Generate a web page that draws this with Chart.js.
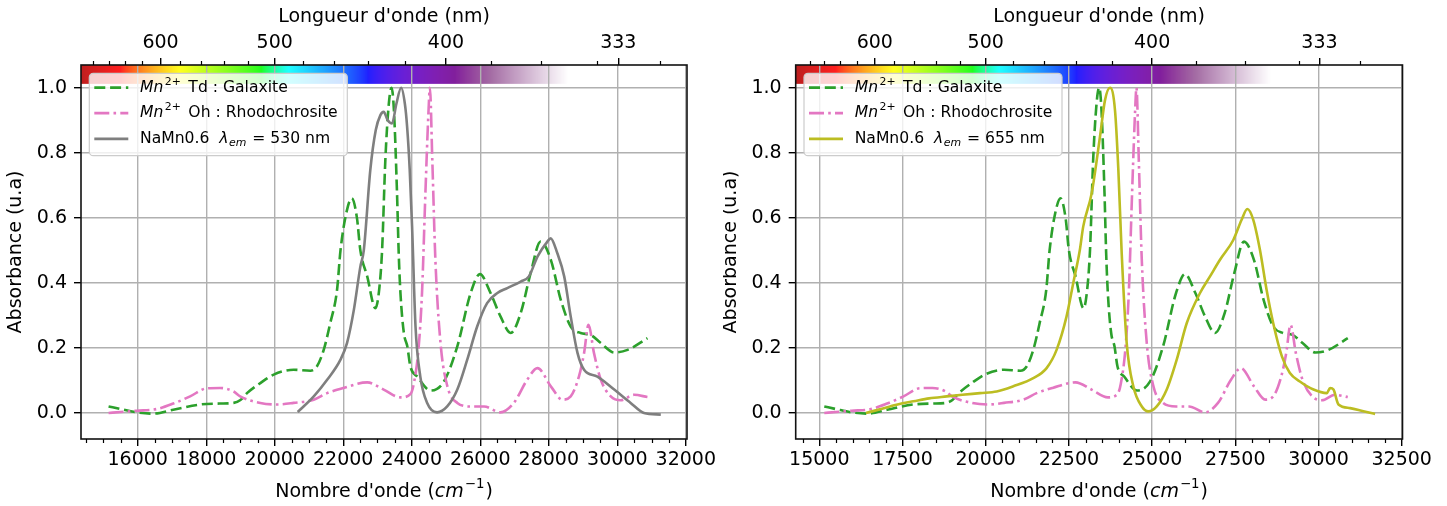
<!DOCTYPE html>
<html><head><meta charset="utf-8">
<script src="https://cdn.jsdelivr.net/npm/chart.js@4/dist/chart.umd.min.js"></script>
<style>
html,body{margin:0;padding:0;background:#fff;width:1447px;height:506px;overflow:hidden}
canvas{position:absolute;top:0}
#c1{left:0}
#c2{left:723px}
</style></head><body>
<canvas id="c1" width="723" height="506"></canvas>
<canvas id="c2" width="724" height="506"></canvas>
<script>
// ---------------- DATA ----------------
const galaxiteX = [15150,15500,15970,16450,17040,17820,18400,18800,19000,19190,19580,19970,20550,21040,21230,21430,21620,21820,21920,22100,22250,22400,22500,22700,22940,23050,23134,23230,23330,23410,23480,23570,23620,23670,23770,23870,23960,24160,24550,24940,25330,25720,25990,26300,26590,26890,27180,27470,27760,28060,28350,28640,28930,29220,29520,29910,30300,30880];
const galaxiteY = [0.020,0.012,0.002,-0.002,0.010,0.026,0.029,0.031,0.040,0.061,0.092,0.118,0.133,0.130,0.143,0.194,0.276,0.379,0.500,0.620,0.660,0.600,0.500,0.420,0.322,0.380,0.500,0.780,0.950,1.000,0.930,0.676,0.490,0.369,0.246,0.205,0.143,0.112,0.069,0.097,0.205,0.369,0.427,0.369,0.297,0.246,0.307,0.430,0.527,0.471,0.348,0.266,0.246,0.240,0.215,0.186,0.194,0.230];

const rhodoX = [15150,15500,15970,16550,17040,17530,18020,18400,18800,18990,19580,20060,20550,21140,21530,22010,22700,23180,23670,23960,24060,24200,24300,24400,24490,24530,24600,24690,24840,25040,25330,25720,26110,26590,26980,27370,27670,28060,28400,28640,28880,29030,29160,29320,29520,29810,30100,30490,30880];
const rhodoY = [0.000,0.003,0.007,0.012,0.029,0.051,0.076,0.077,0.066,0.051,0.031,0.026,0.031,0.041,0.061,0.077,0.094,0.072,0.048,0.058,0.090,0.200,0.370,0.680,0.930,1.000,0.778,0.471,0.215,0.082,0.031,0.020,0.020,0.002,0.031,0.102,0.138,0.082,0.041,0.051,0.112,0.184,0.271,0.184,0.102,0.051,0.039,0.056,0.049];

const namn530X = [20670,21140,21530,21920,22110,22310,22500,22600,22790,22950,23085,23180,23300,23425,23550,23690,23800,23865,23940,24010,24110,24250,24450,24740,25035,25330,25620,25910,26200,26500,26790,27180,27420,27670,27960,28055,28250,28450,28640,28840,29030,29420,29910,30390,30780,31270];
const namn530Y = [0.003,0.051,0.102,0.164,0.215,0.317,0.450,0.500,0.747,0.870,0.916,0.926,0.900,0.890,0.950,1.000,0.950,0.880,0.750,0.573,0.266,0.112,0.031,0.002,0.020,0.072,0.164,0.266,0.338,0.369,0.384,0.404,0.420,0.481,0.527,0.537,0.491,0.420,0.297,0.184,0.133,0.112,0.072,0.031,0.000,-0.005];

const namn655X = [16400,16700,17125,17500,17825,18300,18830,19300,19830,20330,20830,21430,21830,22130,22430,22630,22830,22930,23185,23435,23585,23736,23886,23985,24087,24237,24436,24690,24890,25140,25440,25740,26040,26440,26740,27040,27440,27690,27860,28040,28240,28440,28640,28900,29140,29440,29850,30250,30350,30450,30600,30950,31350,31700];
const namn655Y = [0.000,0.008,0.020,0.030,0.036,0.045,0.051,0.056,0.061,0.066,0.082,0.107,0.138,0.194,0.297,0.399,0.502,0.573,0.676,0.850,0.962,1.000,0.930,0.750,0.490,0.215,0.082,0.020,0.005,0.020,0.072,0.164,0.276,0.369,0.420,0.471,0.532,0.594,0.627,0.594,0.502,0.379,0.276,0.174,0.123,0.097,0.072,0.061,0.077,0.072,0.026,0.015,0.005,-0.003];

const xTicksLeft = [16000,18000,20000,22000,24000,26000,28000,30000,32000];
const xTicksRight = [15000,17500,20000,22500,25000,27500,30000,32500];
const yTicks = [0.0,0.2,0.4,0.6,0.8,1.0];
const topTicksNm = [600,500,400,333];
const topMinorNm = [680,660,640,620,580,560,540,520,480,460,440,420,380,360,340,320];

// ---------------- HELPERS ----------------
const FONT = "'DejaVu Sans', sans-serif";
const C_GREEN = '#2ca02c', C_PINK = '#e377c2', C_GRAY = '#7f7f7f', C_OLIVE = '#bcbd22';
const DASH = [11, 4.8];
const DASHDOT = [15, 4.2, 2.6, 4.2];

function zip(xs, ys){ return xs.map((x,i)=>({x:x, y:ys[i]})); }

function wavelengthColor(nm){
  let a = 1;
  if (nm < 396) a = Math.max(0, (nm - 350) / 46);
  const w = Math.min(Math.max(nm, 380), 750);
  let r=0,g=0,b=0,att=1;
  if (w < 440){ att = 0.3 + 0.7*(w-380)/60; r = (440-w)/60; b = 1; }
  else if (w < 490){ g = (w-440)/50; b = 1; }
  else if (w < 510){ g = 1; b = (510-w)/20; }
  else if (w < 580){ r = (w-510)/70; g = 1; }
  else if (w < 645){ r = 1; g = (645-w)/65; }
  else { r = 1; att = 0.3 + 0.7*(750-w)/105; }
  const f = v => Math.round(255*Math.pow(v*att, 0.8));
  return {r:f(r), g:f(g), b:f(b), a:a*0.88};
}

function runFont(r, size){
  const s = (r.sup || r.sub) ? size*0.7 : size;
  return (r.it ? 'italic ' : '') + s + 'px ' + FONT;
}
function drawRuns(ctx, runs, x, y, size){
  let cx = x;
  runs.forEach(r => {
    cx += (r.padL || 0);
    ctx.font = runFont(r, size);
    const dy = r.sup ? -size*0.38 : (r.sub ? size*0.25 : 0);
    ctx.fillText(r.t, cx, y + dy);
    cx += ctx.measureText(r.t).width + (r.padR || 0);
  });
  return cx - x;
}
function measureRuns(ctx, runs, size){
  let w = 0;
  runs.forEach(r => {
    ctx.font = runFont(r, size);
    w += ctx.measureText(r.t).width + (r.padL || 0) + (r.padR || 0);
  });
  return w;
}

function makeChart(id, W, H, area, xMin, xMax, xTicks, sets, legendItems){
  const decor = {
    id: 'decor',
    beforeDraw(chart){
      const {ctx, chartArea:a, scales} = chart;
      const x = scales.x, y = scales.y;
      const yb = y.getPixelForValue(1.012);
      ctx.save();
      for (let px = Math.floor(a.left); px < a.right; px++){
        const v = x.getValueForPixel(px + 0.5);
        const c = wavelengthColor(1e7 / v);
        if (c.a <= 0) continue;
        ctx.fillStyle = `rgba(${c.r},${c.g},${c.b},${c.a})`;
        ctx.fillRect(px, a.top, 1, yb - a.top);
      }
      ctx.restore();
    },
    afterDatasetsDraw(chart){
      const {ctx, chartArea:a, scales} = chart;
      const x = scales.x;
      ctx.save();
      // frame
      ctx.strokeStyle = '#111'; ctx.lineWidth = 1.6; ctx.setLineDash([]);
      ctx.strokeRect(a.left, a.top, a.right - a.left, a.bottom - a.top);
      // minor ticks
      ctx.lineWidth = 1.2; ctx.strokeStyle = '#000';
      for (let v = Math.ceil(xMin/500)*500; v <= xMax; v += 500){
        if (xTicks.includes(v)) continue;
        const px = Math.round(x.getPixelForValue(v)) + 0.5;
        ctx.beginPath(); ctx.moveTo(px, a.bottom); ctx.lineTo(px, a.bottom + 4); ctx.stroke();
      }
      topMinorNm.forEach(nm => {
        const v = 1e7/nm;
        if (v < xMin || v > xMax) return;
        const px = Math.round(x.getPixelForValue(v)) + 0.5;
        ctx.beginPath(); ctx.moveTo(px, a.top); ctx.lineTo(px, a.top - 4); ctx.stroke();
      });
      // legend
      const bx = a.left + 8.3, by = a.top + 8.3, bw = 258, bh = 82.4;
      ctx.beginPath();
      ctx.roundRect(bx, by, bw, bh, 4);
      ctx.fillStyle = 'rgba(255,255,255,0.8)'; ctx.fill();
      ctx.strokeStyle = '#cccccc'; ctx.lineWidth = 1.2; ctx.stroke();
      const rows = [22.7, 48.2, 73.9];
      legendItems.forEach((it, i) => {
        const yy = a.top + rows[i];
        ctx.strokeStyle = it.color; ctx.lineWidth = 2.7; ctx.setLineDash(it.dash);
        ctx.beginPath(); ctx.moveTo(a.left + 13.3, yy); ctx.lineTo(a.left + 47.3, yy); ctx.stroke();
        ctx.setLineDash([]);
        ctx.fillStyle = '#000'; ctx.textBaseline = 'middle'; ctx.textAlign = 'left';
        drawRuns(ctx, it.runs, a.left + 59, yy, 15.6);
      });
      // axis titles
      ctx.fillStyle = '#000'; ctx.textBaseline = 'middle'; ctx.textAlign = 'left';
      const cxm = (a.left + a.right)/2;
      const bottomRuns = [{t:"Nombre d'onde ("},{t:'cm',it:true},{t:'\u22121',sup:true,padL:1,padR:1},{t:')'}];
      const bw2 = measureRuns(ctx, bottomRuns, 19);
      drawRuns(ctx, bottomRuns, cxm - bw2/2, 492, 19);
      const topRuns = [{t:"Longueur d'onde (nm)"}];
      const tw = measureRuns(ctx, topRuns, 19);
      drawRuns(ctx, topRuns, cxm - tw/2, 16.7, 19);
      ctx.save();
      ctx.translate(a.left - 65, (a.top + a.bottom)/2);
      ctx.rotate(-Math.PI/2);
      const yRuns = [{t:'Absorbance (u.a)'}];
      const yw = measureRuns(ctx, yRuns, 19);
      drawRuns(ctx, yRuns, -yw/2, 0, 19);
      ctx.restore();
      ctx.restore();
    }
  };

  const tickFont = {family: FONT, size: 19};
  return new Chart(document.getElementById(id), {
    type: 'line',
    data: { datasets: sets.map(s => ({
      data: zip(s.x, s.y), borderColor: s.color, borderWidth: 2.6, borderDash: s.dash,
      pointRadius: 0, fill: false, cubicInterpolationMode: 'monotone', order: s.order
    })) },
    options: {
      responsive: false, animation: false, devicePixelRatio: 1,
      layout: { padding: {left: 0, top: 0, bottom: 0, right: W - area.right} },
      plugins: { legend: {display: false}, tooltip: {enabled: false} },
      scales: {
        x: {
          type: 'linear', position: 'bottom', min: xMin, max: xMax,
          afterBuildTicks: s => { s.ticks = xTicks.map(v => ({value: v})); },
          afterFit: s => { s.height = H - area.bottom; },
          grid: {color: '#b0b0b0', lineWidth: 1.4, tickColor: '#000', tickLength: 7, drawTicks: true},
          border: {display: false},
          ticks: {color: '#000', font: tickFont, padding: 3, maxRotation: 0, autoSkip: false,
                  callback: v => String(v)}
        },
        xTop: {
          type: 'linear', position: 'top', min: xMin, max: xMax,
          afterBuildTicks: s => { s.ticks = topTicksNm.map(nm => ({value: 1e7/nm})); },
          afterFit: s => { s.height = area.top; },
          grid: {drawOnChartArea: false, tickColor: '#000', lineWidth: 1.4, tickLength: 7},
          border: {display: false},
          ticks: {color: '#000', font: tickFont, padding: 4, maxRotation: 0, autoSkip: false,
                  callback: (v, i) => String(topTicksNm[i])}
        },
        y: {
          type: 'linear', position: 'left', min: -0.08, max: 1.07,
          afterBuildTicks: s => { s.ticks = yTicks.map(v => ({value: v})); },
          afterFit: s => { s.width = area.left; },
          grid: {color: '#b0b0b0', lineWidth: 1.4, tickColor: '#000', tickLength: 7},
          border: {display: false},
          ticks: {color: '#000', font: tickFont, padding: 7, callback: v => v.toFixed(1)}
        }
      }
    },
    plugins: [decor]
  });
}

const mnRuns = (rest) => [{t:'Mn', it:true},{t:'2+', sup:true, padL:1.5, padR:2.5},{t:rest}];
const namnRuns = (nm) => [{t:'NaMn0.6  '},{t:'\u03bb', it:true},{t:'em', it:true, sub:true, padL:0.5, padR:1},{t:' = ' + nm + ' nm'}];

makeChart('c1', 723, 506, {left: 81, right: 687, top: 65, bottom: 439}, 14345, 32035, xTicksLeft, [
  {x: galaxiteX, y: galaxiteY, color: C_GREEN, dash: DASH, order: 3},
  {x: rhodoX, y: rhodoY, color: C_PINK, dash: DASHDOT, order: 2},
  {x: namn530X, y: namn530Y, color: C_GRAY, dash: [], order: 1}
], [
  {color: C_GREEN, dash: DASH, runs: mnRuns(' Td : Galaxite')},
  {color: C_PINK, dash: DASHDOT, runs: mnRuns(' Oh : Rhodochrosite')},
  {color: C_GRAY, dash: [], runs: namnRuns(530)}
]);

makeChart('c2', 724, 506, {left: 72.7, right: 679.5, top: 65, bottom: 439}, 14291, 32524, xTicksRight, [
  {x: galaxiteX, y: galaxiteY, color: C_GREEN, dash: DASH, order: 3},
  {x: rhodoX, y: rhodoY, color: C_PINK, dash: DASHDOT, order: 2},
  {x: namn655X, y: namn655Y, color: C_OLIVE, dash: [], order: 1}
], [
  {color: C_GREEN, dash: DASH, runs: mnRuns(' Td : Galaxite')},
  {color: C_PINK, dash: DASHDOT, runs: mnRuns(' Oh : Rhodochrosite')},
  {color: C_OLIVE, dash: [], runs: namnRuns(655)}
]);
</script>
</body></html>
